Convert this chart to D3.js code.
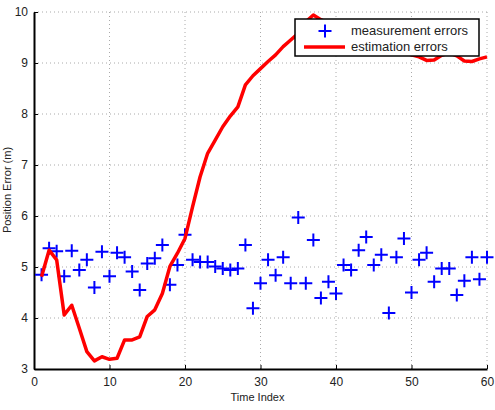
<!DOCTYPE html>
<html>
<head>
<meta charset="utf-8">
<script src="https://cdn.jsdelivr.net/npm/d3@7"></script>
<style>
  body { margin: 0; background: #fff; }
  text { font-family: "Liberation Sans", Arial, sans-serif; }
</style>
</head>
<body>
<svg id="chart" width="495" height="410"></svg>
<script>
// chart data
const timeIndex = d3.range(1, 61);
const measurementErrors = [
  4.85, 5.37, 5.31, 4.82, 5.32, 4.94, 5.14, 4.60, 5.30, 4.82,
  5.28, 5.19, 4.91, 4.55, 5.07, 5.17, 5.43, 4.65, 5.04, 5.63,
  5.14, 5.10, 5.10, 5.01, 4.97, 4.94, 4.97, 5.43, 4.19, 4.68,
  5.14, 4.84, 5.19, 4.68, 5.97, 4.68, 5.53, 4.39, 4.71, 4.48,
  5.04, 4.94, 5.33, 5.59, 5.04, 5.24, 4.10, 5.19, 5.56, 4.50,
  5.14, 5.28, 4.71, 4.97, 4.97, 4.45, 4.73, 5.19, 4.76, 5.19
];
const estimationErrors = [
  4.81, 5.33, 5.14, 4.06, 4.25, 3.80, 3.34, 3.16, 3.24, 3.19,
  3.21, 3.57, 3.57, 3.63, 4.03, 4.16, 4.48, 5.01, 5.27, 5.56,
  6.18, 6.77, 7.23, 7.49, 7.75, 7.96, 8.14, 8.57, 8.75, 8.89,
  9.03, 9.16, 9.32, 9.45, 9.58, 9.81, 9.94, 9.85, 9.78, 9.70,
  9.62, 9.55, 9.50, 9.45, 9.40, 9.35, 9.30, 9.25, 9.20, 9.16,
  9.12, 9.05, 9.06, 9.15, 9.20, 9.14, 9.04, 9.03, 9.08, 9.12
];
const xTicks = [0, 10, 20, 30, 40, 50, 60];
const yTicks = [3, 4, 5, 6, 7, 8, 9, 10];
const legendLabels = ["measurement errors", "estimation errors"];

const svg = d3.select("#chart");
const margin = { left: 34, right: 8, top: 12, bottom: 41 };
const width = 495, height = 410;

const x = d3.scaleLinear().domain([0, 60]).range([margin.left, width - margin.right]);
const y = d3.scaleLinear().domain([3, 10]).range([height - margin.bottom, margin.top]);

// dotted grid
const grid = svg.append("g")
  .attr("stroke", "#aaa")
  .attr("stroke-width", 1)
  .attr("stroke-dasharray", "1,3");
grid.selectAll("line.gx").data(xTicks.slice(1)).enter().append("line")
  .attr("x1", d => x(d)).attr("x2", d => x(d))
  .attr("y1", y(3)).attr("y2", y(10));
grid.selectAll("line.gy").data(yTicks.slice(1)).enter().append("line")
  .attr("x1", x(0)).attr("x2", x(60))
  .attr("y1", d => y(d)).attr("y2", d => y(d));

// axes, ticks pointing inward like matlab
const xAxis = svg.append("g")
  .attr("transform", `translate(0,${y(3)})`)
  .call(d3.axisBottom(x).tickValues(xTicks).tickFormat(d3.format("d"))
    .tickSizeInner(-4).tickSizeOuter(0).tickPadding(8));
const yAxis = svg.append("g")
  .attr("transform", `translate(${x(0)},0)`)
  .call(d3.axisLeft(y).tickValues(yTicks).tickFormat(d3.format("d"))
    .tickSizeInner(-4).tickSizeOuter(0).tickPadding(6));

[xAxis, yAxis].forEach(a => {
  a.select(".domain").attr("stroke", "#000").attr("stroke-width", 2);
  a.selectAll(".tick line").attr("stroke", "#000");
  a.selectAll("text").attr("font-size", 12).attr("fill", "#222")
    .attr("font-family", "Liberation Sans, Arial, sans-serif");
});

// measurement errors as plus markers
const arm = 6.5;
svg.append("g")
  .attr("stroke", "#0000ff")
  .attr("stroke-width", 2)
  .selectAll("path")
  .data(timeIndex)
  .enter().append("path")
  .attr("d", (d, i) => `M${x(d) - arm},${y(measurementErrors[i])}h${2 * arm}M${x(d)},${y(measurementErrors[i]) - arm}v${2 * arm}`);

// estimation errors line
const line = d3.line()
  .x((d, i) => x(timeIndex[i]))
  .y(d => y(d));
svg.append("path")
  .datum(estimationErrors)
  .attr("fill", "none")
  .attr("stroke", "#ff0000")
  .attr("stroke-width", 3.5)
  .attr("stroke-linejoin", "round")
  .attr("d", line);

// legend box
const legend = svg.append("g").attr("transform", "translate(295,19)");
legend.append("rect")
  .attr("width", 184).attr("height", 37)
  .attr("fill", "#fff").attr("stroke", "#000").attr("stroke-width", 1.5);
legend.append("path")
  .attr("d", `M${30 - arm},12h${2 * arm}M30,${12 - arm}v${2 * arm}`)
  .attr("stroke", "#0000ff").attr("stroke-width", 2);
legend.append("line")
  .attr("x1", 9).attr("x2", 50).attr("y1", 28).attr("y2", 28)
  .attr("stroke", "#ff0000").attr("stroke-width", 3.5);
legend.selectAll("text")
  .data(legendLabels)
  .enter().append("text")
  .attr("x", 56)
  .attr("y", (d, i) => 16 + i * 16)
  .attr("font-size", 13)
  .attr("fill", "#222")
  .text(d => d);

// axis labels
svg.append("text")
  .attr("x", x(30) - 3).attr("y", 401)
  .attr("text-anchor", "middle")
  .attr("font-size", 11)
  .attr("fill", "#222")
  .text("Time Index");
svg.append("text")
  .attr("transform", "translate(11,190) rotate(-90)")
  .attr("text-anchor", "middle")
  .attr("font-size", 11)
  .attr("fill", "#222")
  .text("Position Error (m)");
</script>
</body>
</html>
